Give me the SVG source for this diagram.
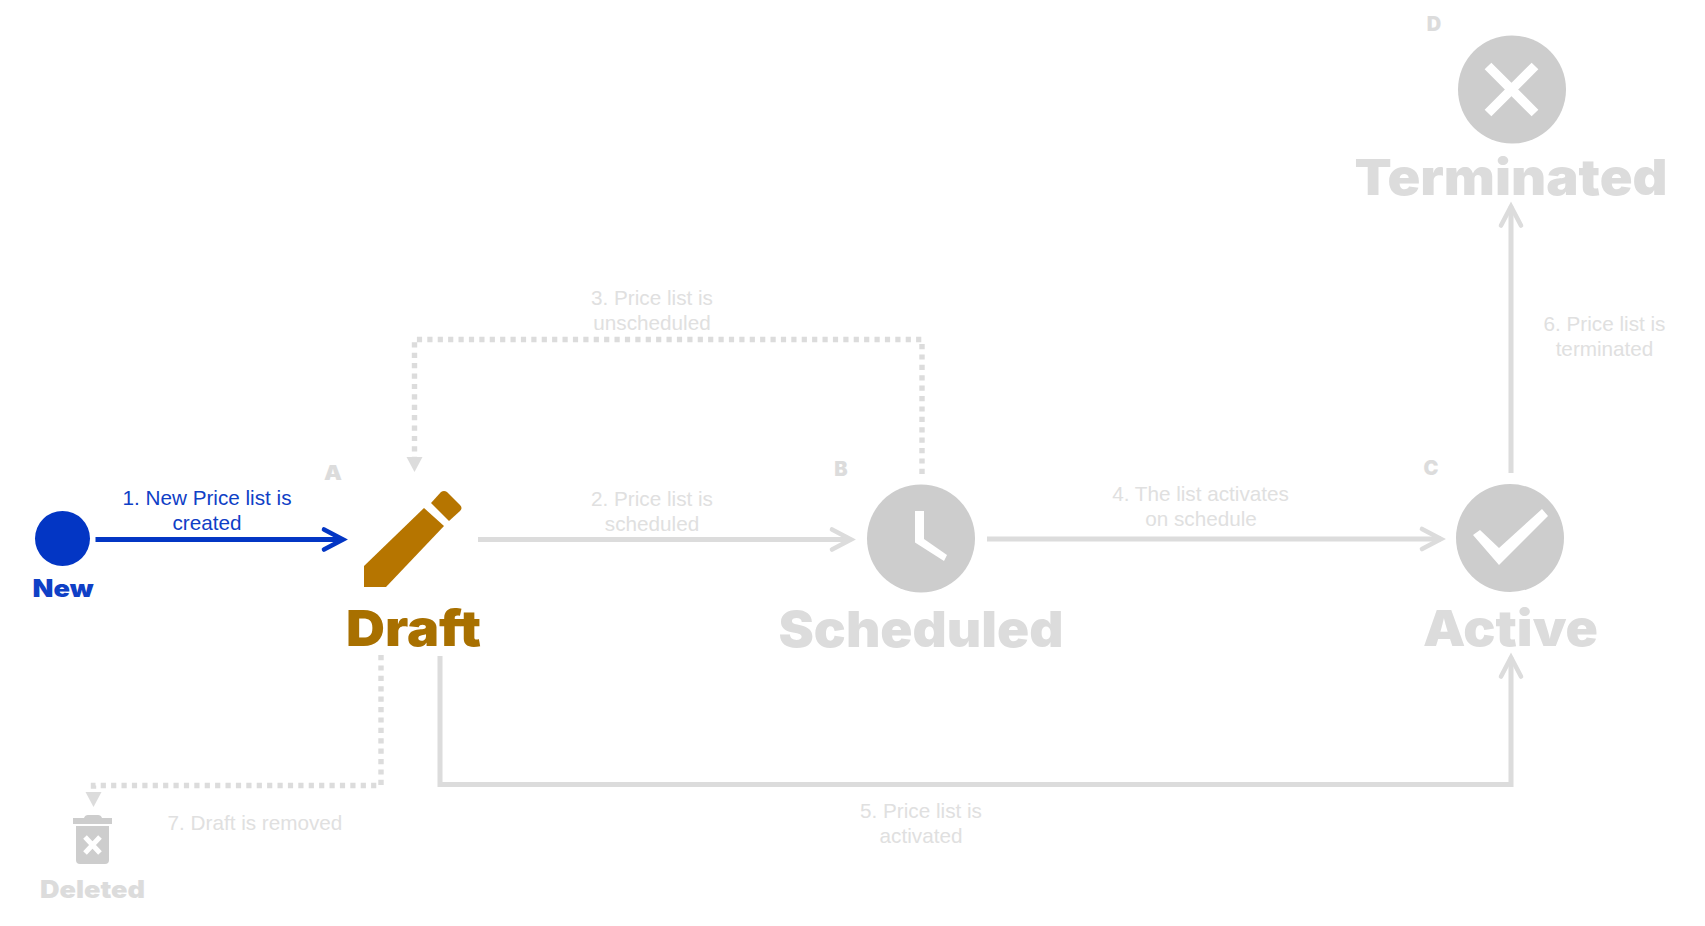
<svg xmlns="http://www.w3.org/2000/svg" width="1705" height="926" viewBox="0 0 1705 926">
<style>
text{font-family:"Liberation Sans",Arial,sans-serif;text-anchor:middle}
.lbl{font-size:20.7px;fill:#e0e0e0}
.heavy{font-family:Inter,"Liberation Sans",Arial,sans-serif;font-weight:900}
.big{font-size:50px}
.g{fill:#dcdcdc}
.tag{font-family:Inter,"Liberation Sans",Arial,sans-serif;font-size:20px;font-weight:900;fill:#dcdcdc}
.disc{fill:#cdcdcd}
.line{fill:none;stroke:#dcdcdc;stroke-width:5}
.solid{marker-end:url(#open)}
.dot{stroke-dasharray:5.2 5.2;stroke-width:5.4;marker-end:url(#tri)}
</style>
<defs>
<marker id="open" markerUnits="userSpaceOnUse" markerWidth="30" markerHeight="30" refX="24" refY="14" orient="auto"><path d="M5 4 L24 14 L5 24" fill="none" stroke="#dcdcdc" stroke-width="4.600" stroke-linecap="round" stroke-linejoin="miter"/></marker>
<marker id="openb" markerUnits="userSpaceOnUse" markerWidth="30" markerHeight="30" refX="24" refY="14" orient="auto"><path d="M5 4 L24 14 L5 24" fill="none" stroke="#0336c4" stroke-width="4.600" stroke-linecap="round"/></marker>
<marker id="tri" markerUnits="userSpaceOnUse" markerWidth="20" markerHeight="20" refX="1" refY="8" orient="auto"><path d="M1 0 L16 8 L1 16 Z" fill="#dcdcdc"/></marker>
</defs>
<g id="connectors">
<path d="M95.500 539.500H343" fill="none" stroke="#0336c4" stroke-width="5" marker-end="url(#openb)"/>
<path class="line solid" d="M478 539.500H851"/>
<path class="line solid" d="M987 539H1441"/>
<path class="line solid" d="M1511 473V206.500"/>
<path class="line solid" d="M440 656V784.500H1511V657.500"/>
<path class="line dot" d="M922 474V339.500H414.500V457"/>
<path class="line dot" d="M381 655V785.500H93.500V792"/>
<g class="lbl">
<text x="652" y="506">2. Price list is</text><text x="652" y="531">scheduled</text>
<text x="652" y="304.500">3. Price list is</text><text x="652" y="329.500">unscheduled</text>
<text x="1200.500" y="501">4. The list activates</text><text x="1201" y="526">on schedule</text>
<text x="921" y="818">5. Price list is</text><text x="921" y="843">activated</text>
<text x="1604.500" y="331">6. Price list is</text><text x="1604.500" y="356">terminated</text>
<text x="255" y="830">7. Draft is removed</text>
</g>
<g font-size="20.7" fill="#0f40c6"><text x="207" y="505">1. New Price list is</text><text x="207" y="530">created</text></g>
</g>
<g id="new">
<circle cx="62.500" cy="538.500" r="27.500" fill="#0336c4"/>
<text class="heavy" x="63" y="597" font-size="24" fill="#0f40c6" textLength="61" lengthAdjust="spacingAndGlyphs">New</text>
</g>
<g id="draft">
<text class="tag" x="333" y="480" textLength="18" lengthAdjust="spacingAndGlyphs">A</text>
<path d="M364 566L424 508L444 526L386 587H364Z" fill="#b67500"/>
<path d="M431 503L441 492Q444 490 447 492L460 505Q463 508 460 511L449 521Z" fill="#b67500"/>
<text class="heavy big" x="413.500" y="646" fill="#a87000" textLength="135" lengthAdjust="spacingAndGlyphs">Draft</text>
</g>
<g id="scheduled">
<text class="tag" x="841" y="476">B</text>
<circle class="disc" cx="921" cy="538.500" r="54"/>
<path d="M915 511H924V539L947 555L944 561L915 542.500Z" fill="#fff"/>
<text class="heavy big g" x="921" y="647" textLength="285" lengthAdjust="spacingAndGlyphs">Scheduled</text>
</g>
<g id="active">
<text class="tag" x="1431" y="475">C</text>
<circle class="disc" cx="1510" cy="538" r="54"/>
<path d="M1473 535L1480 530L1499 548L1542 509L1548 516L1499 565Z" fill="#fff"/>
<text class="heavy big g" x="1510.500" y="646" textLength="175" lengthAdjust="spacingAndGlyphs">Active</text>
</g>
<g id="terminated">
<text class="tag" x="1434" y="31">D</text>
<circle class="disc" cx="1512" cy="89.500" r="54"/>
<path d="M1488 66L1535 113M1535 66L1488 113" stroke="#fff" stroke-width="9.500" fill="none"/>
<text class="heavy big g" x="1511" y="195" textLength="313" lengthAdjust="spacingAndGlyphs">Terminated</text>
</g>
<g id="deleted">
<path d="M73 818H84Q85 815 88 815H98Q101 815 102 818H112V824H73Z" fill="#cdcdcd"/>
<path d="M76 826H109V860Q109 864 105 864H80Q76 864 76 860Z" fill="#cdcdcd"/>
<path d="M85 837L100 853M100 837L85 853" stroke="#fff" stroke-width="5" fill="none"/>
<text class="heavy g" x="92.500" y="898" font-size="24" textLength="105" lengthAdjust="spacingAndGlyphs">Deleted</text>
</g>
</svg>
